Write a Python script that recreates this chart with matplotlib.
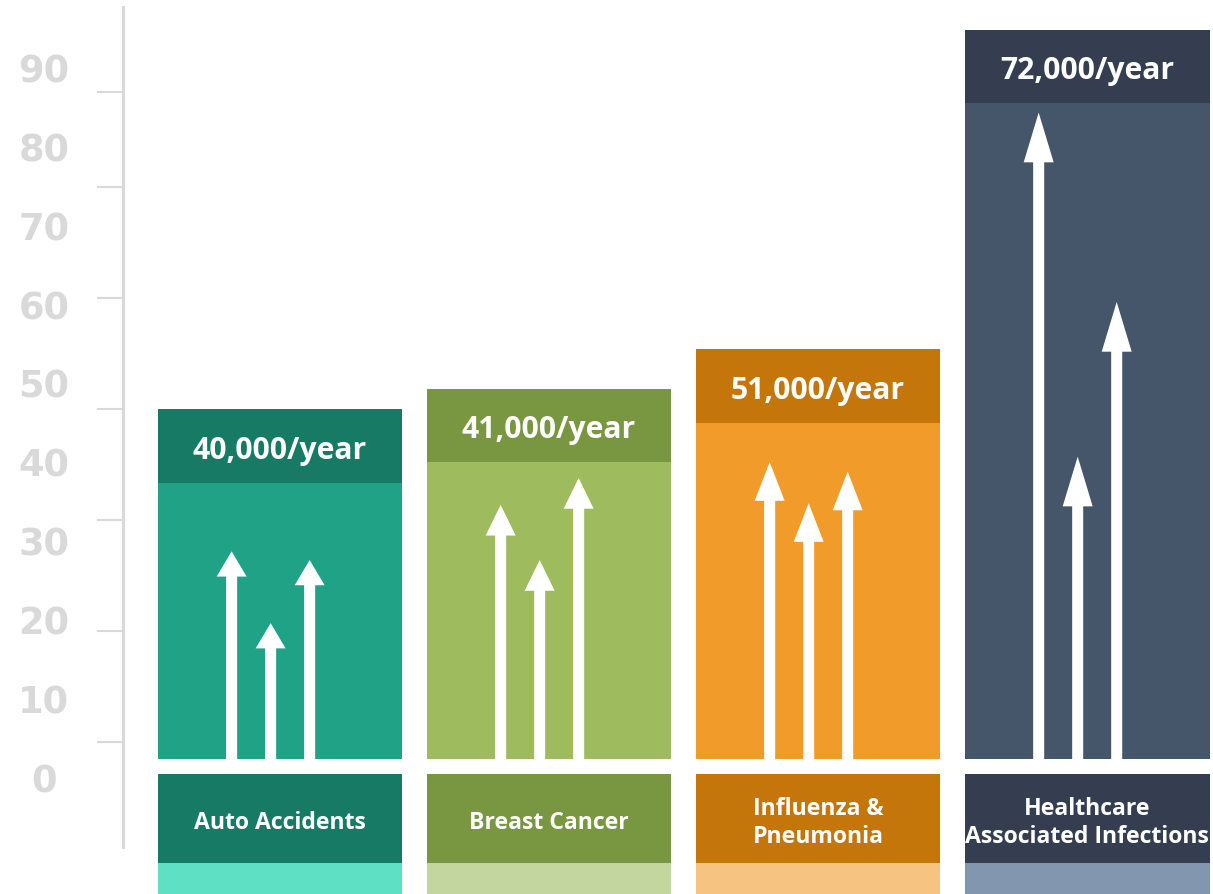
import matplotlib.pyplot as plt

# Deaths per year infographic - four causes compared
categories = ['Auto Accidents', 'Breast Cancer', 'Influenza &\nPneumonia',
              'Healthcare\nAssociated Infections']
deaths_per_year = [40000, 41000, 51000, 72000]

# bar tops as drawn, read against the left axis
bar_tops = [46.6, 49.2, 54.2, 94.7]

# three rising arrows inside each bar (tip heights)
arrow_tips = [[28.6, 19.5, 27.5],
              [34.5, 27.5, 37.9],
              [39.9, 34.7, 38.7],
              [84.2, 40.6, 60.2]]
head_lengths = [3.2, 3.9, 4.9, 6.3]
arrow_offsets = [-0.18, -0.035, 0.11]

y_labels = list(range(0, 100, 10))
tick_marks = [4.4, 18.5, 32.6, 46.6, 60.7, 74.8, 86.8]

header_colors = ['#177A64', '#799641', '#C5760B', '#343E50']
body_colors = ['#20A287', '#9EBC5D', '#F19B2A', '#45556A']
light_colors = ['#5EE0C4', '#C4D6A0', '#F7C380', '#8396AF']
axis_grey = '#D9D9D9'

plt.rcParams['font.family'] = ['Open Sans', 'DejaVu Sans']

fig = plt.figure(figsize=(12.13, 8.95), dpi=100)
ax = fig.add_axes([0, 0, 1, 1])
ax.set_xlim(-1.041, 3.468)
ax.set_ylim(-14.83, 98.6)

x = range(len(categories))
bar_w = 0.91
header_h = 9.3
body_bottom = 2.28

for i in x:
    top = bar_tops[i]
    # header with the yearly count
    ax.bar(i, header_h, bottom=top - header_h, width=bar_w, color=header_colors[i])
    ax.bar(i, top - header_h - body_bottom, bottom=body_bottom, width=bar_w,
           color=body_colors[i])
    ax.text(i, top - header_h / 2 - 0.45, f'{deaths_per_year[i]:,}/year', color='white',
            fontsize=21.7, fontweight='bold', ha='center', va='center')

    # category label box below and the light strip under it
    ax.bar(i, 11.28, bottom=-10.9, width=bar_w, color=header_colors[i])
    ax.bar(i, 5, bottom=-15.9, width=bar_w, color=light_colors[i])
    ax.text(i, -5.7, categories[i], color='white', fontsize=16.6, fontweight='bold',
            ha='center', va='center', linespacing=1.22)

    for off, tip in zip(arrow_offsets, arrow_tips[i]):
        ax.arrow(i + off, body_bottom, 0, tip - body_bottom, width=0.041,
                 head_width=0.1115, head_length=head_lengths[i],
                 length_includes_head=True, color='white', lw=0)

# left axis: line, short tick marks, big grey numbers
for side in ['top', 'right', 'bottom']:
    ax.spines[side].set_visible(False)
ax.spines['left'].set_position(('data', -0.584))
ax.spines['left'].set_bounds(-8.87, 97.6)
ax.spines['left'].set_color(axis_grey)
ax.spines['left'].set_linewidth(2.2)

ax.set_xticks([])
ax.set_yticks(y_labels)
ax.set_yticklabels([str(v) for v in y_labels])
ax.set_yticks(tick_marks, minor=True)
ax.tick_params(axis='y', which='major', length=0, pad=57)
ax.tick_params(axis='y', which='minor', length=19, width=1.5, color=axis_grey)
for lab in ax.get_yticklabels():
    lab.set_horizontalalignment('center')
    lab.set_fontfamily('DejaVu Sans')
    lab.set_fontweight('bold')
    lab.set_fontsize(26.5)
    lab.set_color(axis_grey)

ax.set_facecolor('white')
fig.savefig('out.png', dpi=100)
